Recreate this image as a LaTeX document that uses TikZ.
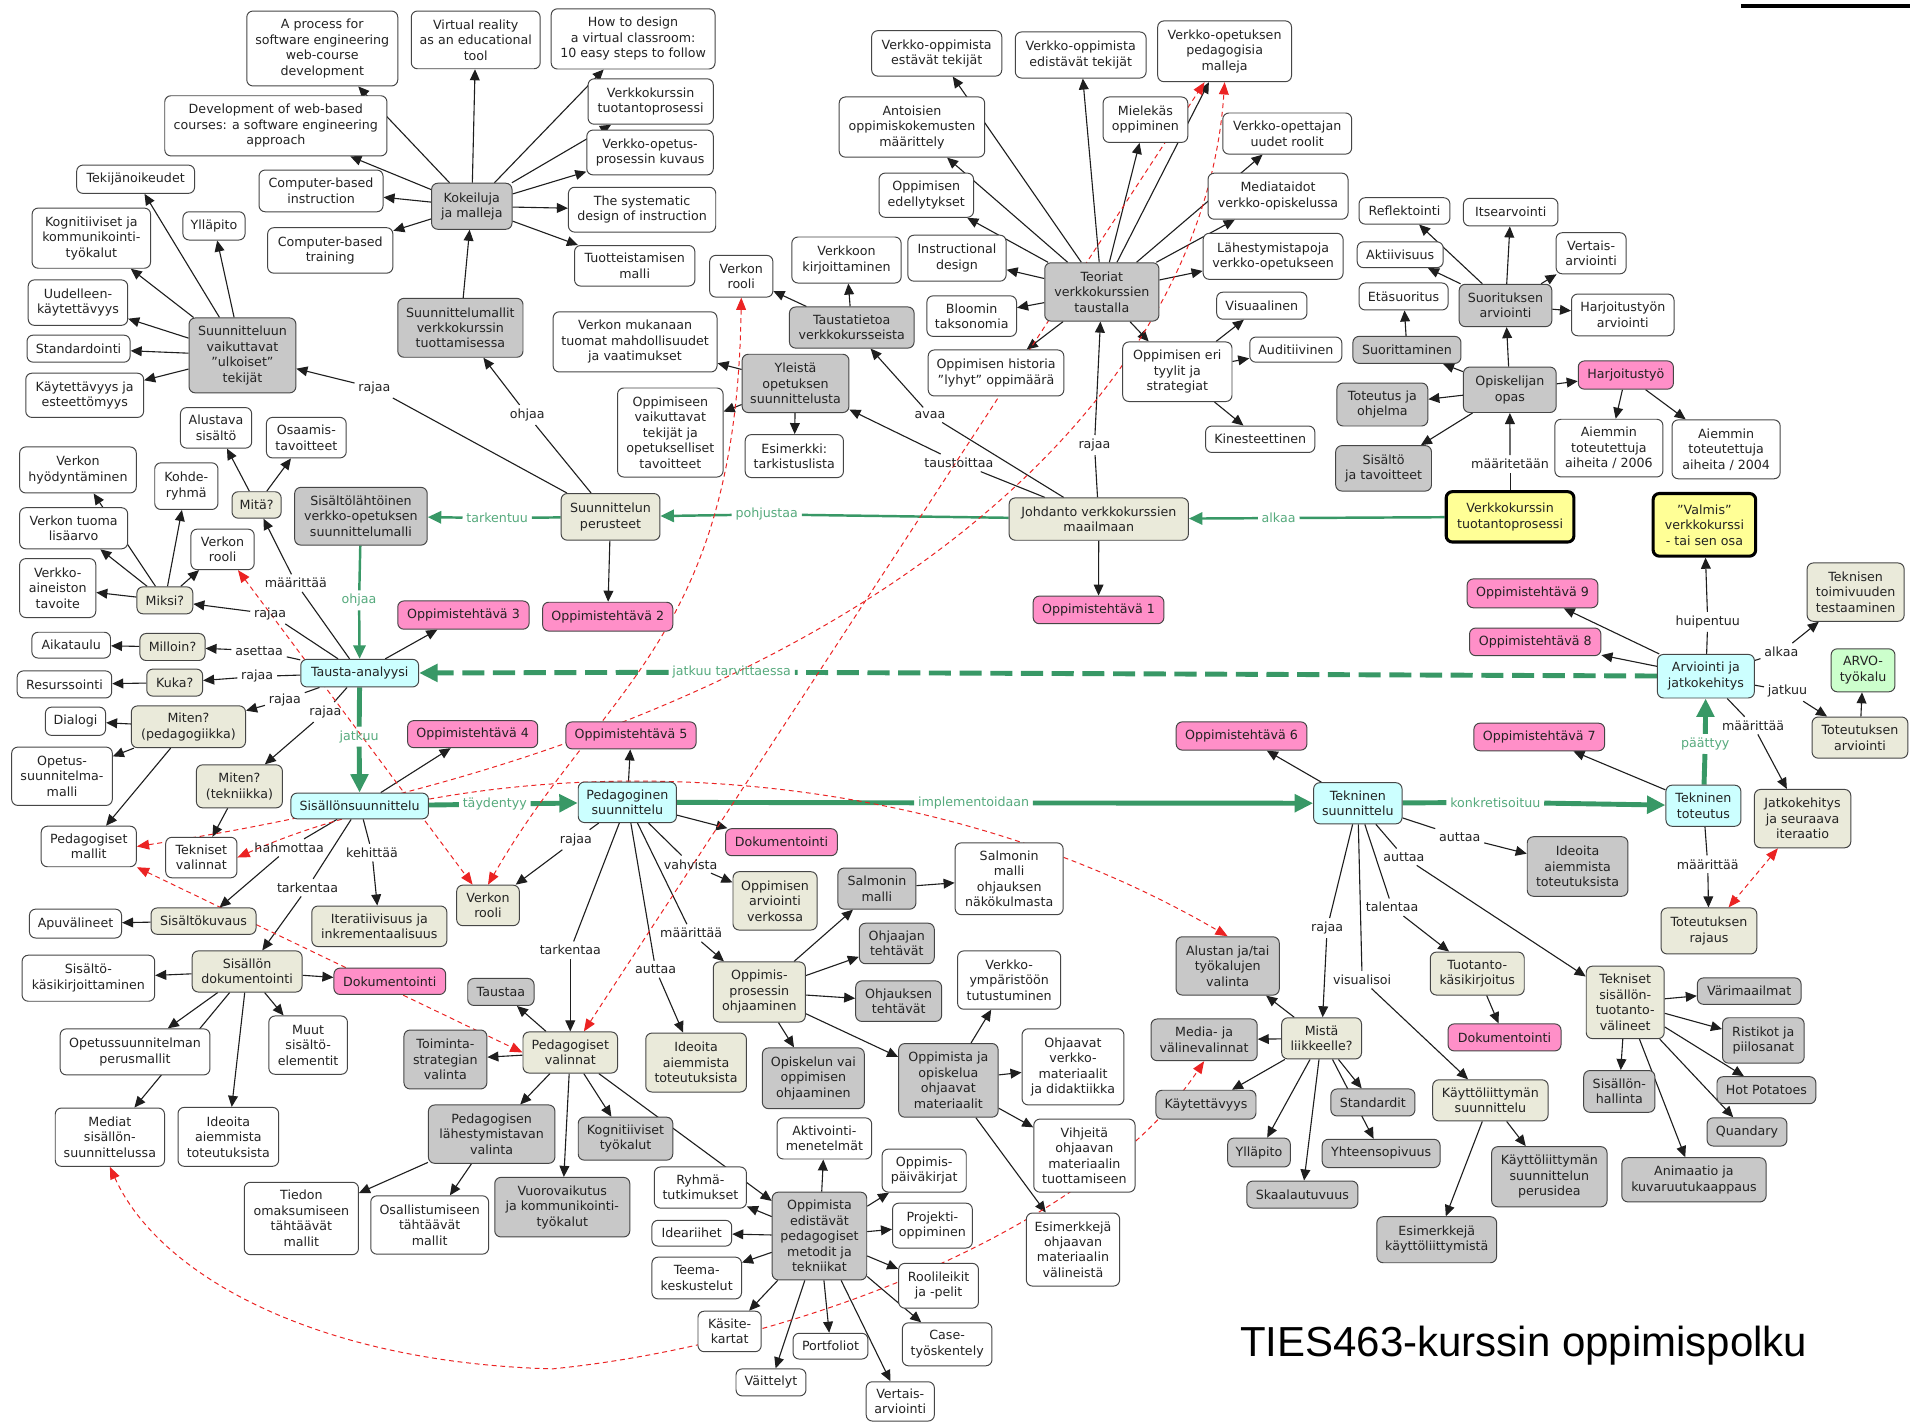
\documentclass[tikz,border=0pt]{standalone}
\usepackage{fontspec}
\setmainfont{DejaVu Sans}
\newfontfamily\titlefont{Liberation Sans}
\usetikzlibrary{arrows.meta}
\pgfdeclarelayer{bg}
\pgfsetlayers{bg,main}
\definecolor{cmborder}{RGB}{70,70,70}
\definecolor{cmtext}{RGB}{35,35,35}
\definecolor{cmline}{RGB}{30,30,30}
\definecolor{cmgray}{RGB}{200,200,200}
\definecolor{cmbeige}{RGB}{234,234,218}
\definecolor{cmcyan}{RGB}{204,255,255}
\definecolor{cmpink}{RGB}{255,143,200}
\definecolor{cmyellow}{RGB}{255,255,150}
\definecolor{cmlgreen}{RGB}{204,255,204}
\definecolor{cmgreen}{RGB}{56,152,102}
\definecolor{cmgreentext}{RGB}{86,170,125}
\definecolor{cmred}{RGB}{235,35,35}
\tikzset{
 box/.style={draw=cmborder, line width=0.8pt, rounded corners=5pt, align=center, inner sep=1pt, font=\fontsize{10.3}{12.6}\selectfont, text=cmtext},
 wb/.style={box, fill=white},
 gb/.style={box, fill=cmgray},
 bb/.style={box, fill=cmbeige},
 cb/.style={box, fill=cmcyan},
 pb/.style={box, fill=cmpink},
 yb/.style={box, fill=cmyellow, draw=black, line width=2.5pt},
 lgb/.style={box, fill=cmlgreen},
 lbl/.style={font=\fontsize{10.3}{12.6}\selectfont, text=cmtext, inner sep=3pt},
 glbl/.style={lbl, text=cmgreentext},
 ln/.style={draw=cmline, line width=0.9pt},
 arr/.style={ln, -{Triangle[length=9pt,width=8pt]}},
 gthin/.style={draw=cmgreen, line width=2pt},
 gthinarr/.style={gthin, -{Triangle[length=11pt,width=10pt]}},
 gthick/.style={draw=cmgreen, line width=4pt},
 gthickarr/.style={gthick, -{Triangle[length=15pt,width=14pt]}},
 gdash/.style={draw=cmgreen, line width=4pt, dash pattern=on 18pt off 7pt},
 gdasharr/.style={gdash, -{Triangle[length=15pt,width=14pt]}},
 rdash/.style={draw=cmred, line width=0.8pt, dash pattern=on 4pt off 3pt, {Triangle[length=10pt,width=8pt]}-{Triangle[length=10pt,width=8pt]}},
}
\newcommand{\cmn}[7]{\node[#2,minimum width=#5pt,minimum height=#6pt] (#1) at (#3,#4) {#7};}
\newcommand{\cml}[3]{\draw[ln] (#1) -- (#2); \draw[arr] (#2) -- (#3);}
\begin{document}
\begin{tikzpicture}[x=1pt,y=-1pt]
\useasboundingbox (0,0) rectangle (1568,1158);
% ---------- nodes ----------
\cmn{proc}{wb}{262.5}{39.5}{123}{61}{A process for\\software engineering\\web-course\\development}
\cmn{vr}{wb}{387.5}{32.5}{105}{47}{Virtual reality\\as an educational\\tool}
\cmn{howto}{wb}{515.7}{31.7}{133.5}{49}{How to design\\a virtual classroom:\\10 easy steps to follow}
\cmn{devweb}{wb}{224.7}{102.5}{181}{49}{Development of web-based\\courses: a software engineering\\approach}
\cmn{vktp}{wb}{530}{82.7}{102}{37}{Verkkokurssin\\tuotantoprosessi}
\cmn{vop}{wb}{529.5}{124.2}{103}{36.5}{Verkko-opetus-\\prosessin kuvaus}
\cmn{tekij}{wb}{110.5}{146}{96}{23}{Tekijänoikeudet}
\cmn{cbi}{wb}{261.5}{155.5}{101}{34}{Computer-based\\instruction}
\cmn{km}{gb}{384.3}{168}{65.5}{37.5}{Kokeiluja\\ja malleja}
\cmn{sysd}{wb}{523}{170.8}{120}{36.5}{The systematic\\design of instruction}
\cmn{kogn}{wb}{74.4}{194}{96.5}{49}{Kognitiiviset ja\\kommunikointi-\\työkalut}
\cmn{yllap}{wb}{174.3}{184}{50.6}{23}{Ylläpito}
\cmn{cbt}{wb}{269}{204}{102}{37}{Computer-based\\training}
\cmn{tuott}{wb}{517}{216.5}{98}{33}{Tuotteistamisen\\malli}
\cmn{uud}{wb}{63.5}{246.5}{81}{37}{Uudelleen-\\käytettävyys}
\cmn{stand}{wb}{64}{284}{84}{22}{Standardointi}
\cmn{suvt}{gb}{197.5}{289.5}{87}{61}{Suunnitteluun\\vaikuttavat\\"ulkoiset"\\tekijät}
\cmn{sumal}{gb}{375}{267}{102}{48}{Suunnittelumallit\\verkkokurssin\\tuottamisessa}
\cmn{kaes}{wb}{69}{322}{96}{36}{Käytettävyys ja\\esteettömyys}
\cmn{alust}{wb}{176}{348.5}{58}{33}{Alustava\\sisältö}
\cmn{osaam}{wb}{249.5}{356.5}{65}{33}{Osaamis-\\tavoitteet}
\cmn{vhyod}{wb}{63.5}{382.8}{95}{37.5}{Verkon\\hyödyntäminen}
\cmn{kohde}{wb}{151.8}{396}{51.5}{38}{Kohde-\\ryhmä}
\cmn{mita}{bb}{209}{411.3}{40}{21.5}{Mitä?}
\cmn{sislah}{gb}{294}{420.5}{108}{47}{Sisältölähtöinen\\verkko-opetuksen\\suunnittelumalli}
\cmn{vtlis}{wb}{60}{430.3}{88}{33.5}{Verkon tuoma\\lisäarvo}
\cmn{vroolL}{wb}{181.3}{447.5}{51.5}{33}{Verkon\\rooli}
\cmn{vatav}{wb}{47}{479}{62}{48}{Verkko-\\aineiston\\tavoite}
\cmn{miksi}{bb}{134.3}{489}{45.5}{22}{Miksi?}
\cmn{aika}{wb}{58}{525.5}{64}{21}{Aikataulu}
\cmn{milloin}{bb}{140.5}{527}{53}{22}{Milloin?}
\cmn{resurs}{wb}{52.5}{557.5}{77}{22}{Resurssointi}
\cmn{kuka}{bb}{142.3}{556}{45.5}{22}{Kuka?}
\cmn{tausta}{cb}{293}{548.3}{96}{22.5}{Tausta-analyysi}
\cmn{dialogi}{wb}{61.5}{587.5}{49}{23}{Dialogi}
\cmn{mitped}{bb}{153.5}{592}{93}{34}{Miten?\\(pedagogiikka)}
\cmn{opsm}{wb}{50.5}{632.3}{82}{47.5}{Opetus-\\suunnitelma-\\malli}
\cmn{mittek}{bb}{195}{640.5}{70}{35}{Miten?\\(tekniikka)}
\cmn{sisss}{cb}{293}{656.5}{112}{21}{Sisällönsuunnittelu}
\cmn{pedmal}{wb}{72.3}{689.5}{77.5}{33}{Pedagogiset\\mallit}
\cmn{tekval}{wb}{164}{698.5}{58}{33}{Tekniset\\valinnat}
\cmn{vroolC}{bb}{397.5}{737.5}{51}{33}{Verkon\\rooli}
\cmn{apuv}{wb}{61.5}{752.3}{75}{23.5}{Apuvälineet}
\cmn{siskuv}{bb}{165.8}{750.3}{85.5}{21.5}{Sisältökuvaus}
\cmn{iter}{bb}{309}{754.5}{110}{33}{Iteratiivisuus ja\\inkrementaalisuus}
\cmn{sisdok}{bb}{201.3}{791.3}{89.5}{33.5}{Sisällön\\dokumentointi}
\cmn{siskas}{wb}{72}{796.8}{108}{37.5}{Sisältö-\\käsikirjoittaminen}
\cmn{dokL}{pb}{317.5}{799.3}{91}{21.5}{Dokumentointi}
\cmn{opsper}{wb}{110}{856.8}{122}{37.5}{Opetussuunnitelman\\perusmallit}
\cmn{muut}{wb}{251}{851.3}{64}{47.5}{Muut\\sisältö-\\elementit}
\cmn{mediat}{wb}{89.5}{926.3}{89}{47.5}{Mediat\\sisällön-\\suunnittelussa}
\cmn{ideoL}{wb}{186}{926}{82}{48}{Ideoita\\aiemmista\\toteutuksista}
\cmn{taustaa}{gb}{408}{808}{54}{22}{Taustaa}
\cmn{toimstr}{gb}{362.8}{863}{67.5}{48}{Toiminta-\\strategian\\valinta}
\cmn{pedval}{bb}{464.5}{857.3}{77}{33.5}{Pedagogiset\\valinnat}
\cmn{pedlah}{gb}{400.5}{923.8}{103}{47.5}{Pedagogisen\\lähestymistavan\\valinta}
\cmn{kogtyo}{gb}{509.5}{927.5}{77}{35}{Kognitiiviset\\työkalut}
\cmn{tiedon}{wb}{245.5}{992.5}{93}{59}{Tiedon\\omaksumiseen\\tähtäävät\\mallit}
\cmn{osall}{wb}{350}{997.8}{96}{47.5}{Osallistumiseen\\tähtäävät\\mallit}
\cmn{vuoro}{gb}{458}{983.3}{110}{48.5}{Vuorovaikutus\\ja kommunikointi-\\työkalut}
\cmn{pedsuun}{cb}{511}{653.5}{80}{33}{Pedagoginen\\suunnittelu}
\cmn{ot5}{pb}{514}{599}{106}{22}{Oppimistehtävä 5}
\cmn{ot4}{pb}{385}{598}{106}{22}{Oppimistehtävä 4}
\cmn{ot3}{pb}{377.5}{501}{107}{23}{Oppimistehtävä 3}
\cmn{ot2}{pb}{495}{502.3}{106}{23.5}{Oppimistehtävä 2}
\cmn{sunper}{bb}{497.3}{421}{80.5}{38}{Suunnittelun\\perusteet}
\cmn{dokC}{pb}{636.5}{686}{91}{22}{Dokumentointi}
\cmn{oparv}{bb}{631.3}{733.8}{68.5}{47.5}{Oppimisen\\arviointi\\verkossa}
\cmn{salm}{gb}{714.3}{723.8}{63.5}{33.5}{Salmonin\\malli}
\cmn{salmoh}{wb}{822}{715.8}{88}{58.5}{Salmonin\\malli\\ohjauksen\\näkökulmasta}
\cmn{ohjaaj}{gb}{730.5}{768.5}{61}{33}{Ohjaajan\\tehtävät}
\cmn{opprohj}{bb}{618.5}{808}{75}{49}{Oppimis-\\prosessin\\ohjaaminen}
\cmn{ohjauk}{gb}{732}{815.5}{70}{33}{Ohjauksen\\tehtävät}
\cmn{vymp}{wb}{822}{798.3}{84}{47.5}{Verkko-\\ympäristöön\\tutustuminen}
\cmn{ideoC}{bb}{567}{865.5}{82}{48}{Ideoita\\aiemmista\\toteutuksista}
\cmn{opisk}{gb}{662.5}{878.3}{83}{49.5}{Opiskelun vai\\oppimisen\\ohjaaminen}
\cmn{ojmat}{gb}{772.5}{880}{81}{60}{Oppimista ja\\opiskelua\\ohjaavat\\materiaalit}
\cmn{ohjver}{wb}{874}{869}{83}{62}{Ohjaavat\\verkko-\\materiaalit\\ja didaktiikka}
\cmn{vihj}{wb}{883.3}{941.3}{82.5}{59.5}{Vihjeitä\\ohjaavan\\materiaalin\\tuottamiseen}
\cmn{esimoh}{wb}{874}{1017.8}{76}{59.5}{Esimerkkejä\\ohjaavan\\materiaalin\\välineistä}
\cmn{aktiv}{wb}{671.5}{927.3}{77}{33.5}{Aktivointi-\\menetelmät}
\cmn{ryhma}{wb}{570.5}{967.3}{75}{33.5}{Ryhmä-\\tutkimukset}
\cmn{oppaiv}{wb}{752.8}{953.5}{68.5}{35}{Oppimis-\\päiväkirjat}
\cmn{ideari}{wb}{563.5}{1004.5}{65}{21}{Ideariihet}
\cmn{opedist}{gb}{667.5}{1006.8}{77}{71.5}{Oppimista\\edistävät\\pedagogiset\\metodit ja\\tekniikat}
\cmn{projekti}{wb}{759.5}{998.3}{65}{36.5}{Projekti-\\oppiminen}
\cmn{teema}{wb}{567.5}{1041}{73}{34}{Teema-\\keskustelut}
\cmn{rooli}{wb}{764.5}{1047.3}{65}{36.5}{Roolileikit\\ja -pelit}
\cmn{kasite}{wb}{594.3}{1084.5}{51.5}{33}{Käsite-\\kartat}
\cmn{portf}{wb}{676.5}{1096.5}{61}{21}{Portfoliot}
\cmn{casew}{wb}{771.5}{1095}{73}{35}{Case-\\työskentely}
\cmn{vaitt}{wb}{628}{1126}{57}{22}{Väittelyt}
\cmn{vertB}{wb}{733.3}{1141.5}{55.5}{32}{Vertais-\\arviointi}
\cmn{alustan}{gb}{1000}{786.8}{84}{47.5}{Alustan ja/tai\\työkalujen\\valinta}
\cmn{mediaval}{gb}{980.8}{847}{86.5}{34}{Media- ja\\välinevalinnat}
\cmn{mista}{bb}{1076.5}{845.8}{65}{33.5}{Mistä\\liikkeelle?}
\cmn{kaytet}{gb}{982.3}{899.8}{81.5}{23.5}{Käytettävyys}
\cmn{standardit}{gb}{1118.3}{898}{68.5}{22}{Standardit}
\cmn{yllapB}{gb}{1025.5}{938.8}{51}{23.5}{Ylläpito}
\cmn{yhteen}{gb}{1125}{939.5}{96}{23}{Yhteensopivuus}
\cmn{skaala}{gb}{1060.8}{973}{90.5}{22}{Skaalautuvuus}
\cmn{esimkl}{gb}{1170.3}{1009.8}{97.5}{37.5}{Esimerkkejä\\käyttöliittymistä}
\cmn{tuotkas}{bb}{1203.3}{793}{76.5}{35}{Tuotanto-\\käsikirjoitus}
\cmn{dokR}{pb}{1225.5}{845}{92}{22}{Dokumentointi}
\cmn{kliitt}{bb}{1214}{896.3}{94}{33.5}{Käyttöliittymän\\suunnittelu}
\cmn{kliper}{gb}{1262}{958.5}{94}{49}{Käyttöliittymän\\suunnittelun\\perusidea}
\cmn{teksis}{bb}{1323.8}{816.5}{63.5}{59}{Tekniset\\sisällön-\\tuotanto-\\välineet}
\cmn{vari}{gb}{1424.8}{807.3}{84.5}{21.5}{Värimaailmat}
\cmn{ristikot}{gb}{1436.3}{847.5}{66.5}{37}{Ristikot ja\\piilosanat}
\cmn{sishal}{gb}{1319}{889}{58}{34}{Sisällön-\\hallinta}
\cmn{hotpot}{gb}{1438.8}{888}{80.5}{22}{Hot Potatoes}
\cmn{quand}{gb}{1423}{922}{65}{23}{Quandary}
\cmn{anim}{gb}{1379.8}{961}{117.5}{36}{Animaatio ja\\kuvaruutukaappaus}
\cmn{teksuun}{cb}{1106}{654.3}{72}{33.5}{Tekninen\\suunnittelu}
\cmn{ot6}{pb}{1011.3}{599.5}{106.5}{23}{Oppimistehtävä 6}
\cmn{ot1}{pb}{894.8}{496.8}{106.5}{22.5}{Oppimistehtävä 1}
\cmn{johd}{bb}{895}{422.8}{146}{34.5}{Johdanto verkkokurssien\\maailmaan}
\cmn{ideoR}{gb}{1285}{705.8}{82}{48.5}{Ideoita\\aiemmista\\toteutuksista}
\cmn{tektot}{cb}{1387.5}{656.3}{61}{33.5}{Tekninen\\toteutus}
\cmn{ot7}{pb}{1253.8}{600.3}{106.5}{22.5}{Oppimistehtävä 7}
\cmn{jatko}{bb}{1468.3}{666.8}{78.5}{47.5}{Jatkokehitys\\ja seuraava\\iteraatio}
\cmn{totraj}{bb}{1392}{758.3}{78}{37.5}{Toteutuksen\\rajaus}
\cmn{arv}{cb}{1389.5}{550.8}{79}{35.5}{Arviointi ja\\jatkokehitys}
\cmn{ot8}{pb}{1250.5}{522.8}{107}{22.5}{Oppimistehtävä 8}
\cmn{ot9}{pb}{1248.3}{483.3}{106.5}{23.5}{Oppimistehtävä 9}
\cmn{valmis}{yb}{1388.3}{427.5}{83.5}{51}{"Valmis"\\verkkokurssi\\- tai sen osa}
\cmn{vktpY}{yb}{1230}{421}{104}{41}{Verkkokurssin\\tuotantoprosessi}
\cmn{tektest}{bb}{1511.5}{482.3}{79}{47.5}{Teknisen\\toimivuuden\\testaaminen}
\cmn{arvo}{lgb}{1517.5}{546}{52}{35}{ARVO-\\työkalu}
\cmn{totarv}{bb}{1515}{600.8}{78}{33.5}{Toteutuksen\\arviointi}
\cmn{estav}{wb}{763}{43.5}{106}{37}{Verkko-oppimista\\estävät tekijät}
\cmn{edist}{wb}{880.3}{44.8}{106.5}{37.5}{Verkko-oppimista\\edistävät tekijät}
\cmn{pedmalleja}{wb}{997.5}{41.8}{109}{49.5}{Verkko-opetuksen\\pedagogisia\\malleja}
\cmn{antois}{wb}{742.8}{103.5}{118.5}{49}{Antoisien\\oppimiskokemusten\\määrittely}
\cmn{mielek}{wb}{933}{97.5}{69}{37}{Mielekäs\\oppiminen}
\cmn{vopettaj}{wb}{1048.5}{108.8}{105}{33.5}{Verkko-opettajan\\uudet roolit}
\cmn{oppedel}{wb}{754.5}{159}{77}{36}{Oppimisen\\edellytykset}
\cmn{mediat2}{wb}{1041}{159.8}{114}{37.5}{Mediataidot\\verkko-opiskelussa}
\cmn{reflek}{wb}{1144}{171.8}{74}{21.5}{Reflektointi}
\cmn{itse}{wb}{1230.5}{172.8}{77}{22.5}{Itsearvointi}
\cmn{vkirj}{wb}{689.5}{211.8}{89}{37.5}{Verkkoon\\kirjoittaminen}
\cmn{instr}{wb}{779.5}{210.3}{80}{37.5}{Instructional\\design}
\cmn{vroolT}{wb}{603.8}{225}{51.5}{34}{Verkon\\rooli}
\cmn{aktiiv}{wb}{1140.5}{207.5}{70}{21}{Aktiivisuus}
\cmn{vertT}{wb}{1296}{206.3}{57}{33.5}{Vertais-\\arviointi}
\cmn{lahest}{wb}{1037}{208.8}{114}{37.5}{Lähestymistapoja\\verkko-opetukseen}
\cmn{teoriat}{gb}{897.5}{237.8}{93}{47.5}{Teoriat\\verkkokurssien\\taustalla}
\cmn{taustat}{gb}{693.8}{266.8}{101.5}{33.5}{Taustatietoa\\verkkokursseista}
\cmn{bloom}{wb}{791.5}{257.5}{73}{33}{Bloomin\\taksonomia}
\cmn{etas}{wb}{1143.3}{241.5}{72.5}{22}{Etäsuoritus}
\cmn{suorarv}{gb}{1226.3}{248.8}{75.5}{34.5}{Suorituksen\\arviointi}
\cmn{harjarv}{wb}{1321.8}{256.5}{83.5}{34}{Harjoitustyön\\arviointi}
\cmn{visu}{wb}{1027.8}{249}{73.5}{22}{Visuaalinen}
\cmn{vmuk}{wb}{517.3}{278.5}{133.5}{49}{Verkon mukanaan\\tuomat mahdollisuudet\\ja vaatimukset}
\cmn{suorit}{gb}{1146}{285}{88}{22}{Suorittaminen}
\cmn{audit}{wb}{1055.5}{284.8}{75}{20.5}{Auditiivinen}
\cmn{histor}{wb}{811.3}{303.8}{110.5}{37.5}{Oppimisen historia\\"lyhyt" oppimäärä}
\cmn{tyylit}{wb}{959}{302.8}{89}{48.5}{Oppimisen eri\\tyylit ja\\strategiat}
\cmn{yleista}{gb}{648}{312.3}{87}{47.5}{Yleistä\\opetuksen\\suunnittelusta}
\cmn{opas}{gb}{1229.8}{317.5}{75.5}{37}{Opiskelijan\\opas}
\cmn{harj}{pb}{1324.3}{305.5}{77.5}{23}{Harjoitustyö}
\cmn{toteut}{gb}{1126}{329.5}{74}{35}{Toteutus ja\\ohjelma}
\cmn{oppvaik}{wb}{546}{352.3}{86}{72.5}{Oppimiseen\\vaikuttavat\\tekijät ja\\opetukselliset\\tavoitteet}
\cmn{esimtark}{wb}{647}{371.5}{80}{35}{Esimerkki:\\tarkistuslista}
\cmn{kines}{wb}{1026.5}{357.8}{89}{21.5}{Kinesteettinen}
\cmn{sistav}{gb}{1127}{381.5}{78}{37}{Sisältö\\ja tavoitteet}
\cmn{aiem06}{wb}{1310.5}{365}{88}{47}{Aiemmin\\toteutettuja\\aiheita / 2006}
\cmn{aiem04}{wb}{1406}{366}{88}{48}{Aiemmin\\toteutettuja\\aiheita / 2004}
% ---------- link labels ----------
\node[lbl] (lrajaa1) at (305,316) {rajaa};
\node[lbl] (lohjaa1) at (429.5,338) {ohjaa};
\node[glbl] (lpohj) at (624.5,419) {pohjustaa};
\node[glbl] (ltarkentuu) at (405,422) {tarkentuu};
\node[lbl] (lavaa) at (757.5,338) {avaa};
\node[lbl] (ltaust) at (781,377) {taustoittaa};
\node[lbl] (lrajaa2) at (891.5,362.5) {rajaa};
\node[glbl] (lalkaa1) at (1041.5,422) {alkaa};
\node[lbl] (lmaaritet) at (1230,378) {määritetään};
\node[lbl] (lmaar1) at (241,475) {määrittää};
\node[glbl] (lohjaa2) at (292.5,489) {ohjaa};
\node[lbl] (lrajaa3) at (220,500) {rajaa};
\node[lbl] (laset) at (211,530) {asettaa};
\node[lbl] (lrajaa4) at (209.5,551) {rajaa};
\node[lbl] (lrajaa5) at (232,570) {rajaa};
\node[lbl] (lrajaa6) at (265,580) {rajaa};
\node[glbl] (ljatkuu1) at (292.5,600) {jatkuu};
\node[glbl] (ltayd) at (403,655) {täydentyy};
\node[lbl] (lhahm) at (235.5,690.5) {hahmottaa};
\node[lbl] (lkehit) at (303,694.5) {kehittää};
\node[lbl] (ltarken1) at (250.5,723) {tarkentaa};
\node[glbl] (ljt) at (596,547.5) {jatkuu tarvittaessa};
\node[glbl] (limpl) at (793,654) {implementoidaan};
\node[glbl] (lkonk) at (1218,653.5) {konkretisoituu};
\node[glbl] (lpaat) at (1389,606) {päättyy};
\node[lbl] (lhuip) at (1391,506.5) {huipentuu};
\node[lbl] (lalkaa2) at (1451,531) {alkaa};
\node[lbl] (ljatkuu2) at (1456,563) {jatkuu};
\node[lbl] (lmaar2) at (1428,591) {määrittää};
\node[lbl] (lmaar3) at (1391,704) {määrittää};
\node[lbl] (lautt1) at (1189,681.5) {auttaa};
\node[lbl] (lautt2) at (1143.5,698) {auttaa};
\node[lbl] (ltalent) at (1134,739) {talentaa};
\node[lbl] (lrajaa7) at (1081,756) {rajaa};
\node[lbl] (lvisu) at (1109.5,798) {visualisoi};
\node[lbl] (lrajaa8) at (469,684) {rajaa};
\node[lbl] (lvahv) at (562.5,704) {vahvista};
\node[lbl] (lmaar4) at (563,760) {määrittää};
\node[lbl] (ltarken2) at (464.5,774) {tarkentaa};
\node[lbl] (lautt3) at (534,789.5) {auttaa};
\coordinate (r2mid) at (450,1115);
% ---------- title ----------
\node[anchor=base west, font=\titlefont\fontsize{34.2}{40}\selectfont, text=black, inner sep=0pt] (title) at (1010,1105) {TIES463-kurssin oppimispolku};
\draw[line width=3pt, black] (1418,5) -- (1556,5);
% ---------- connectors ----------
\begin{pgfonlayer}{bg}
\fill[white] (0,0) rectangle (1568,1158);
\foreach \t in {proc,vr,howto,devweb,vktp,vop,cbi,sysd,cbt,tuott} \draw[arr] (km) -- (\t);
\draw[arr] (sumal) -- (km);
\foreach \t in {tekij,yllap,kogn,uud,stand,kaes} \draw[arr] (suvt) -- (\t);
\draw[arr] (sunper) -- (ot2);
\draw[arr] (johd) -- (ot1);
\foreach \t in {suorarv,harj,suorit,toteut,sistav} \draw[arr] (opas) -- (\t);
\foreach \t in {reflek,itse,vertT,aktiiv,harjarv} \draw[arr] (suorarv) -- (\t);
\draw[arr] (suorit) -- (etas);
\foreach \t in {aiem06,aiem04} \draw[arr] (harj) -- (\t);
\foreach \t in {estav,edist,pedmalleja,antois,mielek,vopettaj,oppedel,mediat2,instr,lahest,bloom,histor,tyylit} \draw[arr] (teoriat) -- (\t);
\foreach \t in {visu,audit,kines} \draw[arr] (tyylit) -- (\t);
\foreach \t in {vroolT,vkirj} \draw[arr] (taustat) -- (\t);
\foreach \t in {vmuk,oppvaik,esimtark} \draw[arr] (yleista) -- (\t);
\draw[arr] (tausta) -- (ot3);
\foreach \t in {alust,osaam} \draw[arr] (mita) -- (\t);
\foreach \t in {vhyod,kohde,vtlis,vroolL,vatav} \draw[arr] (miksi) -- (\t);
\draw[arr] (milloin) -- (aika);
\draw[arr] (kuka) -- (resurs);
\foreach \t in {dialogi,opsm,pedmal} \draw[arr] (mitped) -- (\t);
\draw[arr] (mittek) -- (tekval);
\draw[arr] (sisss) -- (ot4);
\draw[arr] (siskuv) -- (apuv);
\foreach \t in {siskas,dokL,opsper,muut,ideoL,mediat} \draw[arr] (sisdok) -- (\t);
\foreach \t in {ot5,dokC} \draw[arr] (pedsuun) -- (\t);
\foreach \t in {taustaa,toimstr,pedlah,vuoro,kogtyo,opedist} \draw[arr] (pedval) -- (\t);
\foreach \t in {tiedon,osall} \draw[arr] (pedlah) -- (\t);
\foreach \t in {salm,ohjaaj,ohjauk,opisk,ojmat} \draw[arr] (opprohj) -- (\t);
\draw[arr] (salm) -- (salmoh);
\foreach \t in {vymp,ohjver,vihj,esimoh} \draw[arr] (ojmat) -- (\t);
\foreach \t in {aktiv,ryhma,oppaiv,ideari,projekti,teema,rooli,kasite,portf,casew,vaitt,vertB} \draw[arr] (opedist) -- (\t);
\draw[arr] (teksuun) -- (ot6);
\foreach \t in {alustan,mediaval,kaytet,yllapB,skaala,yhteen,standardit} \draw[arr] (mista) -- (\t);
\draw[arr] (tuotkas) -- (dokR);
\foreach \t in {kliper,esimkl} \draw[arr] (kliitt) -- (\t);
\foreach \t in {vari,ristikot,sishal,hotpot,quand,anim} \draw[arr] (teksis) -- (\t);
\draw[arr] (tektot) -- (ot7);
\foreach \t in {ot9,ot8} \draw[arr] (arv) -- (\t);
\draw[arr] (totarv) -- (arvo);
% labelled black links
\cml{sunper}{lrajaa1}{suvt}
\cml{sunper}{lohjaa1}{sumal}
\cml{johd}{lavaa}{taustat}
\cml{johd}{ltaust}{yleista}
\cml{johd}{lrajaa2}{teoriat}
\cml{vktpY}{lmaaritet}{opas}
\cml{tausta}{lmaar1}{mita}
\cml{tausta}{lrajaa3}{miksi}
\cml{tausta}{laset}{milloin}
\cml{tausta}{lrajaa4}{kuka}
\cml{tausta}{lrajaa5}{mitped}
\cml{tausta}{lrajaa6}{mittek}
\cml{sisss}{lhahm}{siskuv}
\cml{sisss}{lkehit}{iter}
\cml{sisss}{ltarken1}{sisdok}
\cml{arv}{lhuip}{valmis}
\cml{arv}{lalkaa2}{tektest}
\cml{arv}{ljatkuu2}{totarv}
\cml{arv}{lmaar2}{jatko}
\cml{tektot}{lmaar3}{totraj}
\cml{teksuun}{lautt1}{ideoR}
\cml{teksuun}{lautt2}{teksis}
\cml{teksuun}{ltalent}{tuotkas}
\cml{teksuun}{lrajaa7}{mista}
\cml{teksuun}{lvisu}{kliitt}
\cml{pedsuun}{lrajaa8}{vroolC}
\cml{pedsuun}{lvahv}{oparv}
\cml{pedsuun}{lmaar4}{opprohj}
\cml{pedsuun}{ltarken2}{pedval}
\cml{pedsuun}{lautt3}{ideoC}
% green flow
\draw[gthin] (johd) -- (lpohj); \draw[gthinarr] (lpohj) -- (sunper);
\draw[gthin] (sunper) -- (ltarkentuu); \draw[gthinarr] (ltarkentuu) -- (sislah);
\draw[gthin] (vktpY) -- (lalkaa1); \draw[gthinarr] (lalkaa1) -- (johd);
\draw[gthin] (sislah) -- (lohjaa2); \draw[gthinarr] (lohjaa2) -- (tausta);
\draw[gthick] (tausta) -- (ljatkuu1); \draw[gthickarr] (ljatkuu1) -- (sisss);
\draw[gthick] (sisss) -- (ltayd); \draw[gthickarr] (ltayd) -- (pedsuun);
\draw[gthick] (pedsuun) -- (limpl); \draw[gthickarr] (limpl) -- (teksuun);
\draw[gthick] (teksuun) -- (lkonk); \draw[gthickarr] (lkonk) -- (tektot);
\draw[gthick] (tektot) -- (lpaat); \draw[gthickarr] (lpaat) -- (arv);
\draw[gdash] (arv) -- (ljt); \draw[gdasharr] (ljt) -- (tausta);
% red cross-links
\draw[rdash] (pedmal.east) .. controls (700,600) and (980,330) .. (pedmalleja.south);
\draw[rdash] (pedval) -- (pedmalleja);
\draw[rdash] (vroolT.south) .. controls (600,520) and (490,560) .. (vroolC.north);
\draw[rdash] (tekval.east) .. controls (380,615) and (720,600) .. (alustan.north);
\draw[rdash] (pedmal.south east) -- (pedval.west);
\draw[rdash] (vroolL) -- (vroolC);
\draw[rdash] (jatko) -- (totraj);
\draw[rdash] (mediat.south) .. controls (130,1040) and (260,1110) .. (r2mid) .. controls (650,1095) and (890,1000) .. (mediaval.south);
\end{pgfonlayer}
\end{tikzpicture}
\end{document}
